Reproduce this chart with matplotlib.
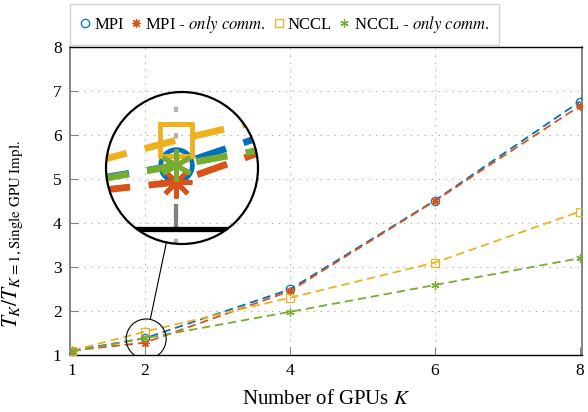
import numpy as np
import matplotlib
matplotlib.use("Agg")
import matplotlib.pyplot as plt
from matplotlib.lines import Line2D
from matplotlib.patches import Circle, Ellipse

plt.rcParams['font.family'] = ['Liberation Serif', 'DejaVu Serif']
plt.rcParams['mathtext.fontset'] = 'stix'
plt.rcParams['lines.scale_dashes'] = False

# data
gpus = [1, 2, 4, 6, 8]
mpi = [1.10, 1.38, 2.49, 4.51, 6.76]
mpi_comm = [1.10, 1.28, 2.45, 4.50, 6.66]
nccl = [1.10, 1.53, 2.30, 3.10, 4.26]
nccl_comm = [1.08, 1.38, 1.98, 2.59, 3.20]

xticks = [1, 2, 4, 6, 8]
yticks = [1, 2, 3, 4, 5, 6, 7, 8]

series = [
    (mpi, '#0072BD', 'o', 'MPI'),
    (mpi_comm, '#D95319', (8, 2, 0), r'MPI - $\mathit{only\ comm.}$'),
    (nccl, '#EDB120', 's', 'NCCL'),
    (nccl_comm, '#77AC30', (6, 2, 0), r'NCCL - $\mathit{only\ comm.}$'),
]

W, H = 588, 412
fig = plt.figure(figsize=(W/100, H/100), dpi=100)
# axes box in pixels
L, R, T, B = 70, 582, 47, 355
ax = fig.add_axes([L/W, 1-B/H, (R-L)/W, (B-T)/H])
ax.set_xlim(0.97, 8.03)
ax.set_ylim(1, 8)
px_x = (R-L)/(8.03-0.97)
px_y = (B-T)/7.0

lw = 1.3
ms = 6.0
dash = (6, 3.5)
grid_kw = dict(color='#b0b0b0', lw=0.8)


def draw(a, s):
    for yv in yticks[1:-1]:
        a.axhline(yv, zorder=0, lw=grid_kw['lw']*s, color=grid_kw['color'], ls=(0, (1*s, 4*s)))
    for xv in xticks[1:-1]:
        a.axvline(xv, zorder=0, lw=grid_kw['lw']*s, color=grid_kw['color'], ls=(0, (1*s, 4*s)))
    for vals, c, m, lab in series:
        a.plot(gpus, vals, color=c, lw=lw*s, ls=(0, (dash[0]*s, dash[1]*s)),
               marker=m, ms=ms*s, mfc='none' if m in ('o', 's') else c,
               mec=c, mew=0.9*s, zorder=3)


draw(ax, 1)

ax.set_xticks(xticks)
ax.set_yticks(yticks)
ax.tick_params(direction='in', length=6, color='#808080', labelsize=12.5, pad=6)
for side in ['left', 'right']:
    ax.spines[side].set_color('#707070')
    ax.spines[side].set_linewidth(1.2)
ax.spines['bottom'].set_linewidth(1.0)
ax.spines['top'].set_linewidth(1.0)
ax.set_xlabel(r'Number of GPUs $K$', fontsize=15, labelpad=8)
ax.set_ylabel(r'$T_K/T_{K=1,\mathrm{Single\ GPU\ Impl.}}$', fontsize=15.5)
ax.yaxis.set_label_coords((25-L)/(R-L), (B-234)/(B-T))

# zoom circle
cx, cy = 2.02, 1.364
r_small = 20
m = 3.8
r_big = 76
ax.add_patch(Ellipse((cx, cy), 2*r_small/px_x, 2*r_small/px_y, fill=False,
                     ec='black', lw=0.8, zorder=5))

bx, by = 182, 168
axin = fig.add_axes([(bx-r_big)/W, 1-(by+r_big)/H, 2*r_big/W, 2*r_big/H])
hx = r_big/(px_x*m)
hy = r_big/(px_y*m)
axin.set_xlim(cx-hx, cx+hx)
axin.set_ylim(cy-hy, cy+hy)
axin.axis('off')
clip = Circle((0.5, 0.5), 0.5, transform=axin.transAxes)
draw(axin, m)
axin.plot([2, 2], [1, 1+6/px_y], color='#808080', lw=0.8*m)
axin.axhline(1, color='black', lw=1.0*m)
for art in axin.lines:
    art.set_clip_path(clip)
axin.add_patch(Circle((0.5, 0.5), 0.5, transform=axin.transAxes, fill=False,
                      ec='black', lw=1.6, zorder=10, clip_on=False))

# connector line between circles (pixel coords)
sx = L + (cx-0.97)*px_x
sy = B - (cy-1)*px_y
d = np.array([bx-sx, by-sy])
d = d/np.hypot(*d)
p1 = (sx + d[0]*r_small, sy + d[1]*r_small)
p2 = (bx - d[0]*r_big, by - d[1]*r_big)
fig.add_artist(Line2D([p1[0]/W, p2[0]/W], [1-p1[1]/H, 1-p2[1]/H],
                      transform=fig.transFigure, color='black', lw=0.8))

handles = [Line2D([], [], ls='none', marker=mk, color=c, mfc='none' if mk in ('o', 's') else c,
                  mec=c, ms=ms, mew=0.9) for _, c, mk, _ in series]
labels = [s[3] for s in series]
fig.legend(handles, labels, loc='upper center', bbox_to_anchor=(284.5/W, 1-4/H),
           ncol=4, fontsize=12, frameon=True, fancybox=False, edgecolor='#c8c8c8',
           handlelength=0.6, handletextpad=0.25, columnspacing=0.45, borderpad=0.6,
           borderaxespad=0)

fig.savefig('out.png', dpi=100)
